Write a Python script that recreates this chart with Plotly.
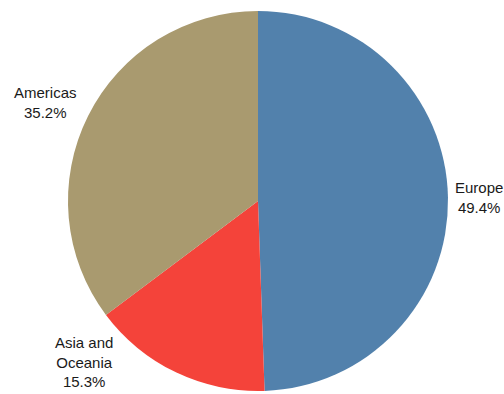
import plotly.graph_objects as go

regions = ["Europe", "Asia and Oceania", "Americas"]
display_labels = ["Europe", "Asia and<br>Oceania", "Americas"]
shares = [49.4, 15.3, 35.2]
colors = ["#5281AC", "#F4433A", "#A99A6F"]

# label anchor positions (paper fractions), in the same order as regions
label_pos = [(0.950, 0.500), (0.167, 0.081), (0.091, 0.741)]

FONT = "Liberation Sans, Arial, sans-serif"

fig = go.Figure(go.Pie(
    labels=regions,
    values=shares,
    textinfo="none",
    sort=False,
    direction="clockwise",
    rotation=0,
    marker=dict(colors=colors, line=dict(width=0)),
    hoverinfo="label+value",
    showlegend=False,
    domain=dict(x=[0.1349, 0.8889], y=[0.0076, 0.9721]),
    automargin=False,
))

for txt, val, (px, py) in zip(display_labels, shares, label_pos):
    fig.add_annotation(
        x=px, y=py, xref="paper", yref="paper",
        text=f"{txt}<br>{val:.1f}%",
        showarrow=False, xanchor="center", yanchor="middle",
        align="center",
        font=dict(family=FONT, size=15, color="#1a1a1a"),
    )

fig.update_layout(
    width=504, height=394,
    margin=dict(l=0, r=0, t=0, b=0),
    paper_bgcolor="white",
    plot_bgcolor="white",
    showlegend=False,
)

fig.write_html("out.html", config={"displayModeBar": False},
               post_script="document.body.style.margin='0';")
